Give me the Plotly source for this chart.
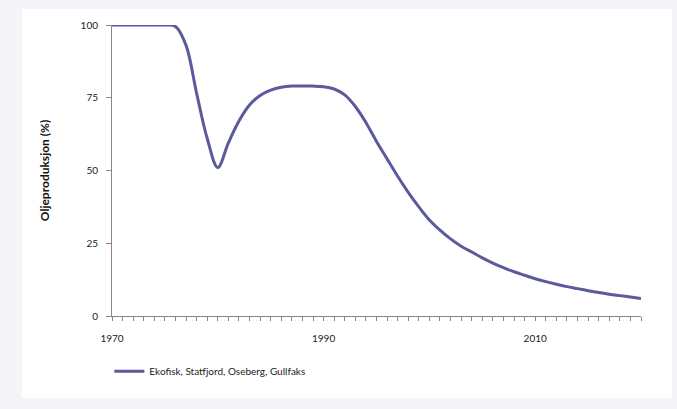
import plotly.graph_objects as go

# Annual oil production as share of peak (%)
years = list(range(1970, 2021))
production = [
    100, 100, 100, 100, 100, 100, 99.5, 93, 76.5, 61,
    51, 59.5, 67, 72.5, 75.8, 77.6, 78.6, 79, 79, 79,
    78.8, 78, 76, 72, 66.5, 60, 54, 48, 42.5, 37.5,
    33, 29.5, 26.5, 24, 22, 20, 18.2, 16.6, 15.2, 14,
    12.8, 11.8, 10.9, 10.1, 9.4, 8.7, 8.1, 7.5, 7, 6.5, 6,
]
series_name = "Ekofisk, Statfjord, Oseberg, Gullfaks"
y_ticks = [0, 25, 50, 75, 100]
x_ticks = [1970, 1990, 2010]

line_color = "#5b5a9c"
axis_color = "#8c8484"
font_family = "Lato, 'Open Sans', sans-serif"

fig = go.Figure()
fig.add_trace(go.Scatter(
    x=years, y=production, mode="lines", name=series_name,
    line=dict(color=line_color, width=3, shape="spline", smoothing=1.0),
))

fig.update_layout(
    width=677, height=409,
    margin=dict(l=112, r=36, t=25, b=93),
    paper_bgcolor="#f4f4f9",
    plot_bgcolor="white",
    font=dict(family=font_family, size=10, color="#222"),
    showlegend=True,
    legend=dict(orientation="h", x=-0.005, y=-0.14, xanchor="left", yanchor="top",
                bgcolor="rgba(0,0,0,0)", font=dict(size=10, color="#222")),
    shapes=[dict(type="rect", xref="paper", yref="paper",
                 x0=-0.170, x1=1.0586, y0=-0.282, y1=1.055,
                 fillcolor="white", line=dict(width=0), layer="below")],
)

fig.update_xaxes(
    range=[1970, 2020], tickvals=x_ticks, ticktext=[str(v) for v in x_ticks],
    showgrid=False, zeroline=False, showline=True, linecolor=axis_color, linewidth=1,
    ticks="outside", ticklen=4, tickcolor=axis_color, ticklabelstandoff=9,
    minor=dict(dtick=1, tick0=1970, ticks="outside", ticklen=4, tickcolor=axis_color),
    tickfont=dict(size=10, color="#222"),
)
fig.update_yaxes(
    range=[0, 100], tickvals=y_ticks, ticktext=[str(v) for v in y_ticks],
    showgrid=False, zeroline=False, showline=True, linecolor=axis_color, linewidth=1,
    ticks="outside", ticklen=5, tickcolor=axis_color, ticklabelstandoff=6,
    tickfont=dict(size=10, color="#222"),
    title=dict(text="<b>Oljeproduksjon (%)</b>", font=dict(size=12, color="#111"), standoff=28),
)

fig.write_html("out.html")
